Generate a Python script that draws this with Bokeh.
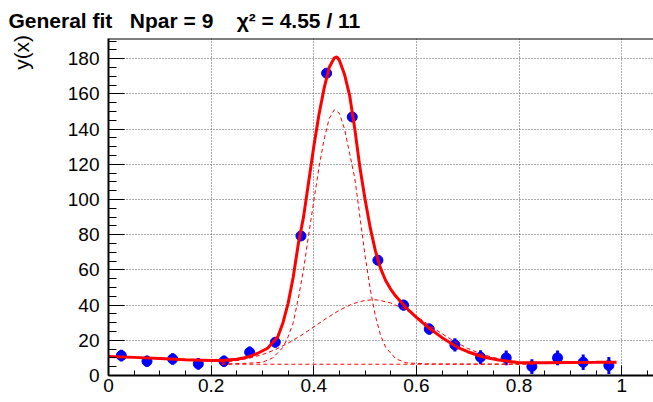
import math
from bokeh.plotting import figure
from bokeh.models import Range1d, SingleIntervalTicker, NumeralTickFormatter, Span, Title
from bokeh.embed import file_html
from bokeh.resources import INLINE

# ---- data ----
bin_x = [0.025, 0.075, 0.125, 0.175, 0.225, 0.275, 0.325, 0.375, 0.425, 0.475,
         0.525, 0.575, 0.625, 0.675, 0.725, 0.775, 0.825, 0.875, 0.925, 0.975]
counts = [11.3, 8.1, 9.4, 6.6, 8.1, 13.2, 18.9, 79.3, 171.8, 146.9,
          65.5, 40.0, 26.4, 17.4, 10.4, 10.0, 5.1, 10.0, 7.5, 5.7]
errors = [3.3, 3.3, 3.3, 3.3, 3.3, 3.3, 3.0, 2.5, 2.5, 2.5,
          2.8, 3.0, 3.2, 3.8, 4.0, 4.2, 4.2, 4.2, 4.4, 4.8]

# total fit curve
fit_x = [0.00, 0.05, 0.10, 0.15, 0.20, 0.22, 0.25, 0.27, 0.29, 0.31, 0.33, 0.34, 0.35,
         0.36, 0.37, 0.38, 0.39, 0.40, 0.41, 0.42, 0.43, 0.44, 0.445, 0.45, 0.46, 0.47,
         0.48, 0.49, 0.50, 0.51, 0.52, 0.53, 0.54, 0.55, 0.56, 0.58, 0.60, 0.62, 0.65,
         0.68, 0.70, 0.73, 0.76, 0.80, 0.85, 0.90, 0.95, 0.99]
fit_y = [10.8, 10.3, 9.7, 9.0, 8.5, 8.5, 9.2, 10.4, 12.5, 15.5, 22.0, 30.0, 41.0,
         56.0, 75.0, 90.0, 110.0, 130.0, 148.0, 163.0, 175.0, 180.5, 181.0, 179.0, 171.0, 159.0,
         140.0, 118.0, 100.0, 84.0, 71.0, 61.0, 54.0, 49.0, 45.0, 38.5, 33.0, 28.0, 21.5,
         16.0, 13.5, 10.5, 8.8, 7.2, 7.2, 7.4, 7.5, 7.6]

# narrow peak component (dashed)
peak_x = [0.22, 0.26, 0.30, 0.32, 0.34, 0.35, 0.36, 0.37, 0.38, 0.39, 0.40, 0.41, 0.42,
          0.43, 0.44, 0.45, 0.46, 0.47, 0.48, 0.49, 0.50, 0.51, 0.52, 0.53, 0.54, 0.56,
          0.58, 0.62, 0.70, 0.80]
peak_y = [6.6, 6.8, 7.5, 10.0, 16.0, 22.0, 30.0, 44.0, 60.0, 80.0, 99.0, 118.0, 134.0,
          146.0, 151.0, 149.0, 140.0, 126.0, 112.0, 90.0, 68.0, 49.0, 34.0, 23.0, 16.0, 9.5,
          7.2, 6.6, 6.5, 6.5]

# broad component (dashed)
broad_x = [0.22, 0.25, 0.275, 0.30, 0.325, 0.35, 0.375, 0.40, 0.425, 0.45, 0.475, 0.50,
           0.515, 0.525, 0.55, 0.575, 0.60, 0.625, 0.65, 0.675, 0.70, 0.725, 0.75, 0.775, 0.80]
broad_y = [7.4, 8.5, 9.9, 11.9, 14.7, 18.4, 22.7, 27.6, 32.6, 37.1, 40.7, 42.7,
           43.0, 42.9, 41.2, 38.0, 33.6, 28.6, 23.7, 19.2, 15.4, 12.4, 10.2, 8.7, 7.8]

# flat background component (dashed)
bg_x = [0.22, 0.83]
bg_y = [6.4, 6.4]

NB = "\u00a0"
title_text = "General fit" + NB * 3 + "Npar = 9" + NB * 4 + "\u03c7\u00b2 = 4.55 / 11"
y_title = "y(x)"

x_end = 1.062
y_end = 191.5

FONT = "Liberation Sans"

p = figure(width=653, height=402, output_backend="svg", toolbar_location=None,
           title=None, x_range=Range1d(0, x_end), y_range=Range1d(0, y_end),
           min_border_left=108, min_border_right=0, min_border_top=37, min_border_bottom=27)
p.outline_line_color = None
p.background_fill_color = "white"
p.border_fill_color = "white"

# axes
p.xaxis.ticker = SingleIntervalTicker(interval=0.2, num_minor_ticks=4)
p.xaxis.formatter = NumeralTickFormatter(format="0.[0]")
p.yaxis.ticker = SingleIntervalTicker(interval=20, num_minor_ticks=4)
for ax in (p.xaxis, p.yaxis):
    ax.axis_line_width = 2
    ax.axis_line_color = "black"
    ax.major_tick_out = 0
    ax.minor_tick_out = 0
    ax.major_tick_line_color = "black"
    ax.minor_tick_line_color = "black"
    ax.major_label_text_font = FONT
    ax.major_label_text_font_size = "19px"
    ax.major_label_text_color = "black"
p.xaxis.major_tick_in = 10
p.xaxis.minor_tick_in = 5
p.xaxis.major_label_standoff = 3
p.yaxis.major_tick_in = 16
p.yaxis.minor_tick_in = 8
p.yaxis.major_label_standoff = 9

# y axis title, pushed to the top end of the axis (ROOT style) with leading no-break spaces
p.yaxis.axis_label = NB * 53 + y_title
p.yaxis.axis_label_text_font = FONT
p.yaxis.axis_label_text_font_size = "21px"
p.yaxis.axis_label_text_font_style = "normal"
p.yaxis.axis_label_text_color = "black"
p.yaxis.axis_label_standoff = 32

for g in (p.xgrid, p.ygrid):
    g.grid_line_color = "#555555"
    g.grid_line_dash = "1 2"
    g.grid_line_width = 1

p.add_layout(Span(location=y_end, dimension="width", line_color="black", line_width=2))

# data points with error bars
lo = [c - e for c, e in zip(counts, errors)]
hi = [c + e for c, e in zip(counts, errors)]
p.segment(x0=bin_x, y0=lo, x1=bin_x, y1=hi, line_color="blue", line_width=3)
p.scatter(bin_x, counts, size=10, fill_color="blue", line_color="blue")

# component curves
for xs, ys in ((bg_x, bg_y), (broad_x, broad_y), (peak_x, peak_y)):
    p.line(xs, ys, line_color="red", line_width=1, line_dash="4 3")

# total fit
p.line(fit_x, fit_y, line_color="red", line_width=3)

# title
t = Title(text=title_text, text_font=FONT, text_font_size="21px", text_font_style="bold",
          text_color="black", align="left", offset=-100, standoff=13)
p.add_layout(t, "above")

open("out.html", "w").write(file_html(p, INLINE))
